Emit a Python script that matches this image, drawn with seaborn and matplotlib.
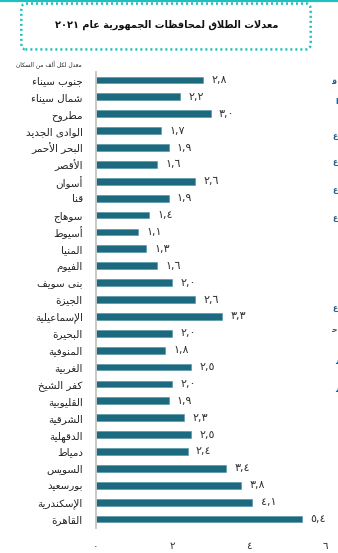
import re
import matplotlib
matplotlib.use("Agg")
import matplotlib.pyplot as plt
from matplotlib.patches import FancyBboxPatch
from matplotlib.lines import Line2D
import seaborn as sns
import pandas as pd

# ---------------------------------------------------------------- data
governorates = [
    "جنوب سيناء", "شمال سيناء", "مطروح", "الوادى الجديد", "البحر الأحمر",
    "الأقصر", "أسوان", "قنا", "سوهاج", "أسيوط", "المنيا", "الفيوم",
    "بنى سويف", "الجيزة", "الإسماعيلية", "البحيرة", "المنوفية", "الغربية",
    "كفر الشيخ", "القليوبية", "الشرقية", "الدقهلية", "دمياط", "السويس",
    "بورسعيد", "الإسكندرية", "القاهرة",
]
divorce_rate = [2.8, 2.2, 3.0, 1.7, 1.9, 1.6, 2.6, 1.9, 1.4, 1.1, 1.3, 1.6,
                2.0, 2.6, 3.3, 2.0, 1.8, 2.5, 2.0, 1.9, 2.3, 2.5, 2.4, 3.4,
                3.8, 4.1, 5.4]
x_ticks = [0, 2, 4, 6]
title = "معدلات الطلاق لمحافظات الجمهورية عام ٢٠٢١"
unit_note = "معدل لكل ألف من السكان"

# ------------------------------------------------- arabic text shaping
# (isolated, final, initial, medial) presentation forms
FORMS = {
    "\u0621": ("\uFE80", None, None, None),
    "\u0622": ("\uFE81", "\uFE82", None, None),
    "\u0623": ("\uFE83", "\uFE84", None, None),
    "\u0624": ("\uFE85", "\uFE86", None, None),
    "\u0625": ("\uFE87", "\uFE88", None, None),
    "\u0626": ("\uFE89", "\uFE8A", "\uFE8B", "\uFE8C"),
    "\u0627": ("\uFE8D", "\uFE8E", None, None),
    "\u0628": ("\uFE8F", "\uFE90", "\uFE91", "\uFE92"),
    "\u0629": ("\uFE93", "\uFE94", None, None),
    "\u062A": ("\uFE95", "\uFE96", "\uFE97", "\uFE98"),
    "\u062B": ("\uFE99", "\uFE9A", "\uFE9B", "\uFE9C"),
    "\u062C": ("\uFE9D", "\uFE9E", "\uFE9F", "\uFEA0"),
    "\u062D": ("\uFEA1", "\uFEA2", "\uFEA3", "\uFEA4"),
    "\u062E": ("\uFEA5", "\uFEA6", "\uFEA7", "\uFEA8"),
    "\u062F": ("\uFEA9", "\uFEAA", None, None),
    "\u0630": ("\uFEAB", "\uFEAC", None, None),
    "\u0631": ("\uFEAD", "\uFEAE", None, None),
    "\u0632": ("\uFEAF", "\uFEB0", None, None),
    "\u0633": ("\uFEB1", "\uFEB2", "\uFEB3", "\uFEB4"),
    "\u0634": ("\uFEB5", "\uFEB6", "\uFEB7", "\uFEB8"),
    "\u0635": ("\uFEB9", "\uFEBA", "\uFEBB", "\uFEBC"),
    "\u0636": ("\uFEBD", "\uFEBE", "\uFEBF", "\uFEC0"),
    "\u0637": ("\uFEC1", "\uFEC2", "\uFEC3", "\uFEC4"),
    "\u0638": ("\uFEC5", "\uFEC6", "\uFEC7", "\uFEC8"),
    "\u0639": ("\uFEC9", "\uFECA", "\uFECB", "\uFECC"),
    "\u063A": ("\uFECD", "\uFECE", "\uFECF", "\uFED0"),
    "\u0641": ("\uFED1", "\uFED2", "\uFED3", "\uFED4"),
    "\u0642": ("\uFED5", "\uFED6", "\uFED7", "\uFED8"),
    "\u0643": ("\uFED9", "\uFEDA", "\uFEDB", "\uFEDC"),
    "\u0644": ("\uFEDD", "\uFEDE", "\uFEDF", "\uFEE0"),
    "\u0645": ("\uFEE1", "\uFEE2", "\uFEE3", "\uFEE4"),
    "\u0646": ("\uFEE5", "\uFEE6", "\uFEE7", "\uFEE8"),
    "\u0647": ("\uFEE9", "\uFEEA", "\uFEEB", "\uFEEC"),
    "\u0648": ("\uFEED", "\uFEEE", None, None),
    "\u0649": ("\uFEEF", "\uFEF0", None, None),
    "\u064A": ("\uFEF1", "\uFEF2", "\uFEF3", "\uFEF4"),
}
LAM_ALEF = {
    "\u0622": ("\uFEF5", "\uFEF6"),
    "\u0623": ("\uFEF7", "\uFEF8"),
    "\u0625": ("\uFEF9", "\uFEFA"),
    "\u0627": ("\uFEFB", "\uFEFC"),
}


def _dual(c):
    return c in FORMS and FORMS[c][2] is not None


def _joins(c):
    return c in FORMS and FORMS[c][1] is not None


def shape(text):
    chars = list(text)
    out = []
    i, n = 0, len(chars)
    while i < n:
        c = chars[i]
        if c not in FORMS:
            out.append(c)
            i += 1
            continue
        prev = chars[i - 1] if i > 0 else None
        link_prev = prev is not None and _dual(prev) and _joins(c)
        if c == "\u0644" and i + 1 < n and chars[i + 1] in LAM_ALEF:
            iso, fin = LAM_ALEF[chars[i + 1]]
            out.append(fin if link_prev else iso)
            i += 2
            continue
        nxt = chars[i + 1] if i + 1 < n else None
        link_next = _dual(c) and nxt is not None and _joins(nxt)
        iso, fin, ini, med = FORMS[c]
        if link_prev and link_next:
            out.append(med)
        elif link_prev:
            out.append(fin)
        elif link_next:
            out.append(ini)
        else:
            out.append(iso)
        i += 1
    shaped = "".join(out)
    # right-to-left visual order, keeping digit runs left-to-right
    runs = re.findall(r"[\u0660-\u06690-9,]+|.", shaped)
    return "".join(reversed(runs))


AR_DIGITS = str.maketrans("0123456789.", "٠١٢٣٤٥٦٧٨٩,")


def ar_num(v, fmt="{:.1f}"):
    return fmt.format(v).translate(AR_DIGITS)


# ---------------------------------------------------------------- figure
W, H = 338, 553
sns.set_theme(style="white")
plt.rcParams["font.family"] = ["DejaVu Sans"]

fig = plt.figure(figsize=(W / 100, H / 100), dpi=100)
ax = fig.add_axes([96 / W, 1 - 527.5 / H, 229 / W, 456 / H])

df = pd.DataFrame({"gov": [shape(g) for g in governorates], "rate": divorce_rate})
sns.barplot(data=df, x="rate", y="gov", orient="h", color="#1c6a80",
            saturation=1, width=0.4, ax=ax, edgecolor="#4f8fa2", linewidth=0.4)

ax.bar_label(ax.containers[0], labels=[ar_num(v) for v in divorce_rate],
             padding=6, fontsize=8, color="#333333")

ax.set_xlim(0, 6)
ax.set_ylim(len(governorates) - 0.5, -0.5)
ax.set_xticks(x_ticks)
ax.set_xticklabels([ar_num(t, "{:d}") for t in x_ticks], fontsize=7.5, color="#333333")
ax.tick_params(axis="x", length=0, pad=10)
ax.tick_params(axis="y", length=0, pad=9.5, labelsize=7.5, labelcolor="#222222")
ax.set_xlabel("")
ax.set_ylabel("")
for side in ("top", "right", "bottom"):
    ax.spines[side].set_visible(False)
ax.spines["left"].set_color("#c4c4c4")
ax.spines["left"].set_linewidth(1.3)
ax.grid(False)

# header: thin rule across the top and a dotted rounded box round the title
fig.add_artist(Line2D([0, 1], [1 - 1 / H, 1 - 1 / H], color="#22bfc0", lw=1.6))
box = FancyBboxPatch((24 / W, 1 - 45 / H), 284 / W, 37 / H,
                     boxstyle="round,pad=0.008,rounding_size=0.012",
                     transform=fig.transFigure, fill=False,
                     edgecolor="#22bfc0", lw=1.8, linestyle=(0, (0.8, 1.2)))
fig.add_artist(box)
fig.text(167 / W, 1 - 25 / H, shape(title), ha="center", va="center",
         fontsize=7, fontweight="bold", color="#111111")
fig.text(82 / W, 1 - 65 / H, shape(unit_note), ha="right", va="center",
         fontsize=4.2, color="#222222")

# text of the neighbouring column, at the right edge
edge_glyphs = [(81, "\uFED7"), (102, "\uFE8D"), (135, "\uFEC9"), (162, "\uFEC9"),
               (190, "\uFEC9"), (218, "\uFEC9"), (308, "\uFEC9"), (330, "\uFEA3"),
               (362, "\uFEE7"), (390, "\uFEE7")]
for y, g in edge_glyphs:
    fig.text(337.5 / W, 1 - y / H, g, ha="right", va="center", fontsize=5.5,
             fontweight="bold", color="#1f5d8c")

fig.savefig("out.png", dpi=100)
